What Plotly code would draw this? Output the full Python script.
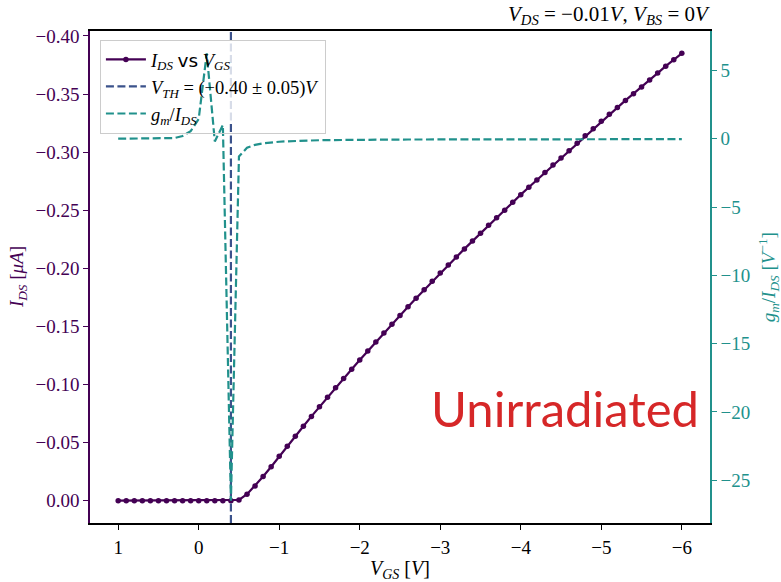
import plotly.graph_objects as go

# ---------------- data ----------------
vgs = [1.0, 0.9, 0.8, 0.7, 0.6, 0.5, 0.4, 0.3, 0.2, 0.1, 0.0,
       -0.1, -0.2, -0.3, -0.4, -0.5, -0.6, -0.7, -0.8, -0.9,
       -1.0, -1.1, -1.2, -1.3, -1.4, -1.5, -1.6, -1.7, -1.8, -1.9,
       -2.0, -2.1, -2.2, -2.3, -2.4, -2.5, -2.6, -2.7, -2.8, -2.9,
       -3.0, -3.1, -3.2, -3.3, -3.4, -3.5, -3.6, -3.7, -3.8, -3.9,
       -4.0, -4.1, -4.2, -4.3, -4.4, -4.5, -4.6, -4.7, -4.8, -4.9,
       -5.0, -5.1, -5.2, -5.3, -5.4, -5.5, -5.6, -5.7, -5.8, -5.9,
       -6.0]

ids_uA = [0.0, 0.0, 0.0, 0.0, 0.0, 0.0, 0.0, 0.0, 0.0, 0.0, 0.0,
          0.0, 0.0, 0.0, 0.0, -0.0006, -0.0055, -0.0127, -0.0208, -0.0292,
          -0.0381, -0.0468, -0.0554, -0.0640, -0.0725, -0.0808, -0.0890, -0.0972, -0.1052, -0.1131,
          -0.1210, -0.1288, -0.1365, -0.1442, -0.1518, -0.1594, -0.1669, -0.1743, -0.1815, -0.1888,
          -0.1960, -0.2029, -0.2098, -0.2167, -0.2234, -0.2302, -0.2370, -0.2436, -0.2500, -0.2568,
          -0.2634, -0.2698, -0.2760, -0.2824, -0.2888, -0.2950, -0.3012, -0.3077, -0.3140, -0.3202,
          -0.3265, -0.3325, -0.3385, -0.3445, -0.3503, -0.3560, -0.3620, -0.3680, -0.3740, -0.3795,
          -0.3850]

gm_over_ids = [0.0, 0.0, 0.0, 0.0, 0.0, 0.0, 0.0, 0.05, 0.2, 0.55, 1.45,
               6.25, -0.2, 1.0, -26.5, -1.3, -0.66, -0.45, -0.34, -0.27,
               -0.22, -0.19, -0.16, -0.14, -0.12, -0.11, -0.10, -0.09, -0.085, -0.08,
               -0.075, -0.07, -0.068, -0.065, -0.062, -0.06, -0.058, -0.056, -0.054, -0.052,
               -0.05, -0.049, -0.048, -0.047, -0.046, -0.045, -0.044, -0.043, -0.042, -0.041,
               -0.04, -0.039, -0.038, -0.037, -0.036, -0.036, -0.035, -0.035, -0.034, -0.034,
               -0.033, -0.033, -0.032, -0.032, -0.031, -0.031, -0.030, -0.030, -0.030, -0.029,
               -0.029]

vth = -0.40
vth_err = 0.05

x_ticks = [1, 0, -1, -2, -3, -4, -5, -6]
x_ticklabels = ["1", "0", "\u22121", "\u22122", "\u22123", "\u22124", "\u22125", "\u22126"]
y_ticks = [0.0, -0.05, -0.10, -0.15, -0.20, -0.25, -0.30, -0.35, -0.40]
y_ticklabels = ["0.00", "\u22120.05", "\u22120.10", "\u22120.15", "\u22120.20",
                "\u22120.25", "\u22120.30", "\u22120.35", "\u22120.40"]
y2_ticks = [5, 0, -5, -10, -15, -20, -25]
y2_ticklabels = ["5", "0", "\u22125", "\u221210", "\u221215", "\u221220", "\u221225"]

# ---------------- styling ----------------
C_IDS = "#440154"
C_VTH = "#3b528b"
C_GM = "#21918c"
SERIF = "Liberation Serif, DejaVu Serif, serif"
DASH = "8px,3.5px"


def padded(lo, hi, frac=0.05):
    span = hi - lo
    return lo - frac * span, hi + frac * span


x_lo, x_hi = padded(min(vgs), max(vgs))
y_lo, y_hi = padded(min(ids_uA), max(ids_uA))
y2_lo, y2_hi = padded(min(gm_over_ids), max(gm_over_ids))

fig = go.Figure()

fig.add_trace(go.Scatter(
    x=vgs, y=ids_uA, mode="lines+markers",
    line=dict(color=C_IDS, width=2.2),
    marker=dict(color=C_IDS, size=5.5),
    name="<i>I</i><sub><i>DS</i></sub> <span style='font-family:DejaVu Sans'>vs</span> <i>V</i><sub><i>GS</i></sub>",
    yaxis="y",
))

fig.add_trace(go.Scatter(
    x=[vth, vth], y=[y_hi, y_lo], mode="lines",
    line=dict(color=C_VTH, width=2.2, dash=DASH),
    name="<i>V</i><sub><i>TH</i></sub> = (\u2212%.2f \u00b1 %.2f)<i>V</i>" % (abs(vth), vth_err),
    yaxis="y",
))

fig.add_trace(go.Scatter(
    x=vgs, y=gm_over_ids, mode="lines",
    line=dict(color=C_GM, width=2.2, dash=DASH),
    name="<i>g</i><sub><i>m</i></sub>/<i>I</i><sub><i>DS</i></sub>",
    yaxis="y2",
))

# legend box (paper coords) -- legend is transparent so the gm spike shows on top;
# a thin translucent patch hides the V_TH line inside the box like the original.
LEG_X0, LEG_YTOP, LEG_YBOT = 0.016, 0.982, 0.809

fig.update_layout(
    width=781, height=582,
    margin=dict(l=90, r=71, t=31, b=59, pad=0),
    paper_bgcolor="white", plot_bgcolor="white",
    font=dict(family=SERIF, size=18, color="black"),
    showlegend=True,
    legend=dict(
        x=LEG_X0, y=LEG_YTOP, xanchor="left", yanchor="top",
        bgcolor="rgba(255,255,255,0)", bordercolor="#cccccc", borderwidth=1,
        font=dict(family=SERIF, size=18.5, color="black"),
        itemwidth=40, tracegroupgap=0,
    ),
    xaxis=dict(
        range=[x_hi, x_lo], tickmode="array", tickvals=x_ticks, ticktext=x_ticklabels,
        showgrid=False, zeroline=False, showline=True, linecolor="black", linewidth=1.5,
        mirror=True, ticks="outside", ticklen=5, tickwidth=1.2, tickcolor="black",
        tickfont=dict(family=SERIF, size=19, color="black"), ticklabelstandoff=1,
    ),
    yaxis=dict(
        range=[y_hi, y_lo], tickmode="array", tickvals=y_ticks, ticktext=y_ticklabels,
        showgrid=False, zeroline=False, showline=True, linecolor=C_IDS, linewidth=1.5,
        ticks="outside", ticklen=5, tickwidth=1.2, tickcolor=C_IDS,
        tickfont=dict(family=SERIF, size=19, color=C_IDS),
    ),
    yaxis2=dict(
        range=[y2_lo, y2_hi], tickmode="array", tickvals=y2_ticks, ticktext=y2_ticklabels,
        overlaying="y", side="right", anchor="x",
        showgrid=False, zeroline=False, showline=True, linecolor=C_GM, linewidth=1.5,
        ticks="outside", ticklen=5, tickwidth=1.2, tickcolor=C_GM,
        tickfont=dict(family=SERIF, size=19, color=C_GM),
    ),
    shapes=[
        dict(type="rect", xref="x", yref="paper", layer="above",
             x0=vth + 0.07, x1=vth - 0.07, y0=LEG_YBOT + 0.004, y1=LEG_YTOP - 0.002,
             fillcolor="rgba(255,255,255,0.8)", line=dict(width=0)),
    ],
)

annotations = [
    dict(text="<i>V</i><sub><i>GS</i></sub> [<i>V</i>]", xref="paper", yref="paper",
         x=0.5, y=-0.094, xanchor="center", yanchor="middle", showarrow=False,
         font=dict(family=SERIF, size=20, color="black")),
    dict(text="<i>I</i><sub><i>DS</i></sub> [<i>\u03bcA</i>]", xref="paper", yref="paper",
         x=-0.116, y=0.5, xanchor="center", yanchor="middle", textangle=-90, showarrow=False,
         font=dict(family=SERIF, size=19, color=C_IDS)),
    dict(text="<i>g</i><sub><i>m</i></sub>/<i>I</i><sub><i>DS</i></sub> [<i>V</i><sup>\u22121</sup>]",
         xref="paper", yref="paper",
         x=1.094, y=0.5, xanchor="center", yanchor="middle", textangle=-90, showarrow=False,
         font=dict(family=SERIF, size=19, color=C_GM)),
    dict(text="<i>V</i><sub><i>DS</i></sub> = \u22120.01<i>V</i>, <i>V</i><sub><i>BS</i></sub> = 0<i>V</i>",
         xref="paper", yref="paper", x=1.003, y=1.0, xanchor="right", yanchor="bottom",
         yshift=1, showarrow=False, font=dict(family=SERIF, size=21, color="black")),
    dict(text="Unirradiated", xref="paper", yref="paper", x=0.985, y=0.234,
         xanchor="right", yanchor="middle", showarrow=False,
         font=dict(family="Lato, Open Sans, sans-serif", size=49, color="#d62728")),
]
fig.update_layout(annotations=annotations)

fig.write_html("out.html", config={"displayModeBar": False},
               post_script="document.body.style.margin='0px';")
